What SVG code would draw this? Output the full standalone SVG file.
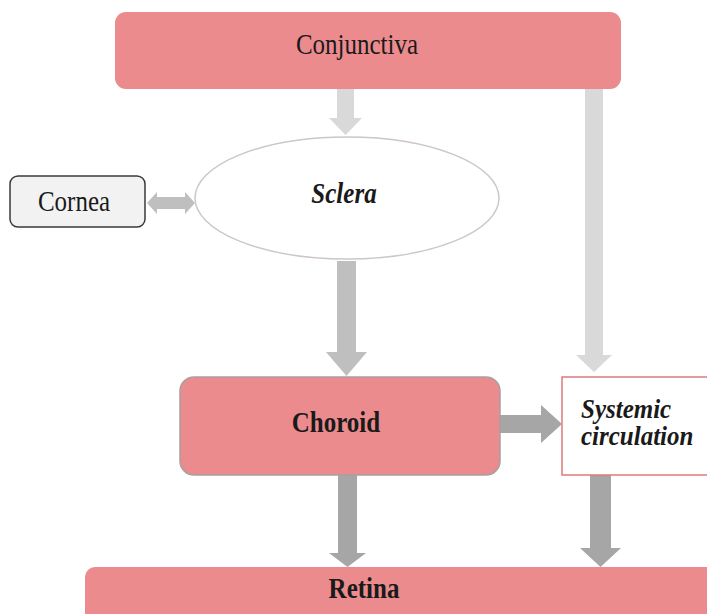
<svg xmlns="http://www.w3.org/2000/svg" width="707" height="614" viewBox="0 0 707 614">
<style>
text{font-family:"Liberation Serif","Times New Roman",serif;font-size:25px;fill:#1a1a1a}
.b{font-weight:bold}
.bi{font-weight:bold;font-style:italic}
.pink{fill:#EC8B8D}
.a1{fill:#D9D9D9}
.a2{fill:#BFBFBF}
.a3{fill:#A6A6A6}
</style>
<rect width="707" height="614" fill="#ffffff"/>
<g id="connectors">
  <polygon class="a1" points="337,88 354,88 354,118 362,118 345.5,135 329,118 337,118"/>
  <polygon class="a1" points="585,88 603,88 603,355 612,355 594,372 576,355 585,355"/>
  <polygon class="a2" points="147,203 157,192 157,197 185,197 185,192 195,203 185,214 185,209 157,209 157,214"/>
  <polygon class="a2" points="337,261 356,261 356,352 367,352 346.5,376 326,352 337,352"/>
  <polygon class="a3" points="500,415 541,415 541,405 562,424 541,443 541,433 500,433"/>
  <polygon class="a3" points="338,475 357,475 357,553 366,553 347.5,567 329,553 338,553"/>
  <polygon class="a3" points="590,475 611,475 611,548 621,548 600.5,567 580,548 590,548"/>
</g>
<g id="conjunctiva">
  <rect class="pink" x="115" y="12" width="506" height="77" rx="11"/>
  <text transform="translate(357,54) scale(1,1.15)" text-anchor="middle">Conjunctiva</text>
</g>
<g id="sclera">
  <ellipse cx="347" cy="198" rx="152" ry="61" fill="#ffffff" stroke="#CFC6C6" stroke-width="1.5"/>
  <text class="bi" transform="translate(344,203) scale(1,1.15)" text-anchor="middle">Sclera</text>
</g>
<g id="cornea">
  <rect x="10" y="176" width="135" height="51" rx="8" fill="#F2F2F2" stroke="#3a3a3a" stroke-width="1.5"/>
  <text transform="translate(74,211) scale(1,1.15)" text-anchor="middle">Cornea</text>
</g>
<g id="choroid">
  <rect class="pink" x="180" y="377" width="320" height="98" rx="14" stroke="#A8A0A0" stroke-width="1.5"/>
  <text class="b" transform="translate(336,432) scale(1,1.15)" text-anchor="middle">Choroid</text>
</g>
<g id="systemic">
  <rect x="562" y="377" width="150" height="98" fill="#ffffff" stroke="#E07A7C" stroke-width="1.5"/>
  <text class="bi" transform="translate(581,418) scale(1,1.1)"><tspan x="0" y="0">Systemic</tspan><tspan x="0" y="25">circulation</tspan></text>
</g>
<g id="retina">
  <rect class="pink" x="85" y="567" width="640" height="60" rx="10"/>
  <text class="b" transform="translate(364,598) scale(1,1.15)" text-anchor="middle">Retina</text>
</g>
</svg>
